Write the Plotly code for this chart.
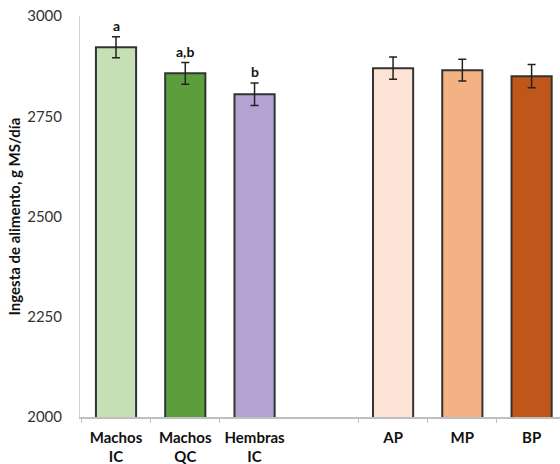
import plotly.graph_objects as go

# Feed intake by group (g DM/day), with standard errors and significance letters
categories = ["Machos<br>IC", "Machos<br>QC", "Hembras<br>IC", "AP", "MP", "BP"]
intake = [2922, 2857, 2805, 2870, 2865, 2850]
sem = [26, 27, 28, 28, 27, 29]
letters = ["a", "a,b", "b", "", "", ""]
colors = ["#c5e0b4", "#5c9e3c", "#b4a3d2", "#fce3d5", "#f4b183", "#c1561a"]

# blank slot separating the two groups of bars
axis_order = ["Machos<br>IC", "Machos<br>QC", "Hembras<br>IC", " ", "AP", "MP", "BP"]
y_ticks = [2000, 2250, 2500, 2750, 3000]

font_family = "Lato, 'Liberation Sans', sans-serif"

fig = go.Figure()
fig.add_trace(go.Bar(
    x=categories,
    y=intake,
    marker=dict(color=colors, line=dict(color="#333333", width=2)),
    error_y=dict(type="data", array=sem, visible=True,
                 color="#222222", thickness=1.5, width=4),
    showlegend=False,
))

for cat, val, err, lab in zip(categories, intake, sem, letters):
    if lab:
        fig.add_annotation(
            x=cat, y=val + err, text=f"<b>{lab}</b>",
            showarrow=False, yanchor="bottom", yshift=1,
            font=dict(family=font_family, size=14, color="#111111"),
        )

fig.add_annotation(
    xref="paper", yref="paper", x=0, y=0.5, xshift=-67,
    text="<b>Ingesta de alimento, g MS/día</b>", textangle=-90,
    showarrow=False, xanchor="center", yanchor="middle",
    font=dict(family=font_family, size=15, color="#111111"),
)

fig.update_layout(
    width=560, height=464,
    margin=dict(l=80, r=0, t=16, b=47),
    paper_bgcolor="white", plot_bgcolor="white",
    bargap=0.42,
    font=dict(family=font_family),
)
fig.update_xaxes(
    type="category", categoryorder="array", categoryarray=axis_order,
    range=[-0.52, 6.41], automargin=False,
    tickvals=categories, ticktext=[f"<b>{c}</b>" for c in categories],
    tickangle=0,
    showline=True, linecolor="#bfbfbf", linewidth=1.5,
    ticks="outside", tickson="boundaries", ticklen=4, tickcolor="#bfbfbf",
    ticklabelstandoff=6,
    tickfont=dict(family=font_family, size=15, color="#111111"),
    showgrid=False,
)
fig.update_yaxes(
    range=[2000, 3000], tickvals=y_ticks, automargin=False,
    showline=True, linecolor="#d0d0d0", linewidth=1,
    ticks="", ticklabelstandoff=14,
    tickfont=dict(family=font_family, size=15, color="#333333"),
    showgrid=False, zeroline=False,
)

fig.write_html("out.html")
